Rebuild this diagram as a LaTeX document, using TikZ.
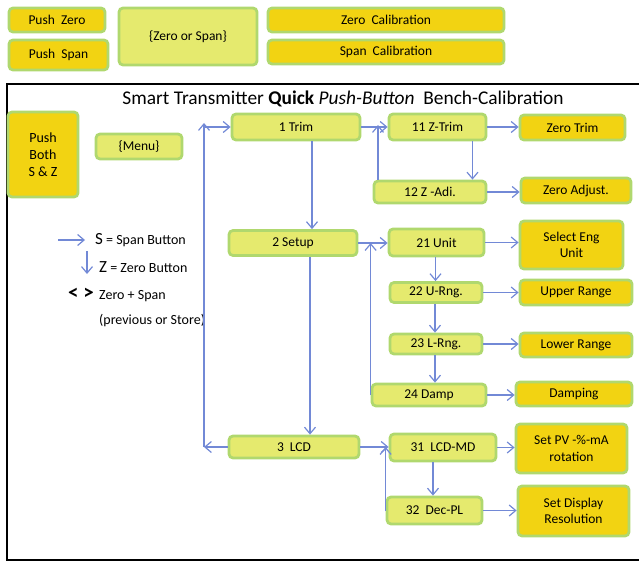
\documentclass[tikz,border=0pt]{standalone}
\usepackage{fontspec}
\setmainfont{Carlito}
\usepackage{xcolor}
\usetikzlibrary{arrows.meta,positioning}
\definecolor{boxgreen}{RGB}{176, 216, 110}
\definecolor{paleyellow}{RGB}{229, 234, 110}
\definecolor{goldyellow}{RGB}{242, 211, 18}
\definecolor{arrowblue}{RGB}{114, 137, 214}

\tikzset{
  menubox/.style={draw=boxgreen, line width=2.8pt, fill=paleyellow, rounded corners=4pt,
    inner sep=0pt, align=center, font=\fontsize{13.5}{16.5}\selectfont},
  resultbox/.style={menubox, fill=goldyellow},
  boxsize/.style 2 args={minimum width=#1, minimum height=#2},
  legendtext/.style={anchor=west, inner sep=0pt, font=\fontsize{14}{16}\selectfont},
  flow/.style={draw=arrowblue, line width=1.2pt, -{Straight Barb[length=6.5pt,width=11pt]}}
}

\begin{document}
\begin{tikzpicture}[x=1pt, y=-1pt]
            \useasboundingbox (0,0) rectangle (639,561);
            % Button key on top
            \node[resultbox, boxsize={96}{24}] (pushzero) at (57,20) {Push\ \ Zero};
            \node[resultbox, boxsize={99}{30}] (pushspan) at (58.5,55) {Push\ \ Span};
            \node[menubox, boxsize={138}{57}] (zerospan) at (188,36.5) {\{Zero or Span\}};
            \node[resultbox, boxsize={236}{24}] (zerocal) at (386,20) {Zero\ \ Calibration};
            \node[resultbox, boxsize={236}{24}] (spancal) at (386,52) {Span\ \ Calibration};
            
            % Frame and title
            \draw[line width=2.5pt] (7,84) rectangle (660,560);
            \node[font=\fontsize{19.4}{22}\selectfont] (title) at (343,99)
                {Smart Transmitter \textbf{Quick} \textit{Push-Button}\ \ Bench-Calibration};
            
            % Left side and legend
            \node[resultbox, boxsize={70}{85}, font=\fontsize{14}{17}\selectfont] (pushboth) at (43,154.5) {Push\\Both\\S \& Z};
            \node[menubox, boxsize={86}{25}] (menu) at (139,146.5) {\{Menu\}};
            \node[legendtext] (spanlbl) at (95,240) {{\fontsize{17}{18}\selectfont S} = Span Button};
            \node[legendtext] (zerolbl) at (99,267) {{\fontsize{17}{18}\selectfont Z} = Zero Button};
            \node[legendtext, anchor=east, font=\fontsize{21}{21}\selectfont\bfseries] (bothsym) at (94,294) {<\ >};
            \node[legendtext] (bothlbl) at (99,296) {Zero + Span};
            \node[legendtext] (storelbl) at (99,321) {(previous or Store)};
            \draw[flow] ([xshift=-37pt]spanlbl.west) -- ([xshift=-10pt]spanlbl.west);
            \draw[flow] ([xshift=-12pt,yshift=16pt]zerolbl.west) -- ([xshift=-12pt,yshift=-7pt]zerolbl.west);
            
            % Main menu
            \node[menubox, boxsize={128}{26}] (trim1) at (296,127) {1 Trim};
            \node[menubox, boxsize={128}{25}] (setup2) at (293,243) {2 Setup};
            \node[menubox, boxsize={130}{22}] (lcd3) at (294,447) {3\ \ LCD};
            
            % Trim branch
            \node[menubox, boxsize={97}{26}] (ztrim11) at (437.5,127) {11 Z-Trim};
            \node[menubox, boxsize={112}{22}] (zadj12) at (430,192) {12 Z -Adi.};
            \node[resultbox, boxsize={105}{25}] (zerotrim) at (572.5,127.5) {Zero Trim};
            \node[resultbox, boxsize={110}{25}] (zeroadj) at (576,190.5) {Zero Adjust.};
            
            % Setup branch
            \node[menubox, boxsize={95}{27}] (unit21) at (436.5,242.5) {21 Unit};
            \node[menubox, boxsize={92}{20}] (urng22) at (436,292.5) {22 U-Rng.};
            \node[menubox, boxsize={92}{20}] (lrng23) at (436,344) {23 L-Rng.};
            \node[menubox, boxsize={114}{22}] (damp24) at (429,395) {24 Damp};
            \node[resultbox, boxsize={103}{48}] (selunit) at (571.5,245) {Select Eng\\Unit};
            \node[resultbox, boxsize={112}{25}] (upper) at (576,292.5) {Upper Range};
            \node[resultbox, boxsize={112}{24}] (lower) at (576,345) {Lower Range};
            \node[resultbox, boxsize={116}{24}] (damping) at (574,394) {Damping};
            
            % LCD branch
            \node[menubox, boxsize={106}{27}] (lcdmd31) at (443,447.5) {31\ \ LCD-MD};
            \node[menubox, boxsize={95}{27}] (decpl32) at (434.5,510.5) {32\ \ Dec-PL};
            \node[resultbox, boxsize={111}{49}] (setpv) at (571.5,448.5) {Set PV -\%-mA\\rotation};
            \node[resultbox, boxsize={111}{50}] (setdisp) at (573.5,511) {Set Display\\Resolution};
            
            % Arrows down the main menu
            \coordinate (menuback) at (204,123);
            \draw[flow] ([xshift=16pt]trim1.south) -- ([xshift=16pt]trim1.south |- setup2.north);
            \draw[flow] ([xshift=17pt]setup2.south) -- ([xshift=17pt]setup2.south |- lcd3.north);
            \draw[flow] (lcd3.west) -- (lcd3.west -| menuback);
            \draw[flow] (lcd3.west -| menuback) -- (menuback);
            \draw[flow] (menuback |- trim1.west) -- (trim1.west);
            
            % Arrows of the trim branch
            \coordinate (trimback) at (378,125);
            \draw[flow] (trim1.east) -- (trim1.east -| ztrim11.west);
            \draw[flow] ([xshift=35pt]ztrim11.south) -- ([xshift=35pt]ztrim11.south |- zadj12.north);
            \draw[flow] (zadj12.north -| trimback) -- (trimback);
            \draw[flow] (ztrim11.east) -- (ztrim11.east -| zerotrim.west);
            \draw[flow] (zadj12.east) -- (zadj12.east -| zeroadj.west);
            
            % Arrows of the setup branch
            \draw[flow] (setup2.east) -- (setup2.east -| unit21.west);
            \draw[flow] ([xshift=-1pt]unit21.south) -- ([xshift=-1pt]unit21.south |- urng22.north);
            \draw[flow] ([xshift=-1pt]urng22.south) -- ([xshift=-1pt]urng22.south |- lrng23.north);
            \draw[flow] ([xshift=-1pt]lrng23.south) -- ([xshift=-1pt]lrng23.south |- damp24.north);
            \draw[flow] (damp24.west) -- (damp24.west |- setup2.east);
            \draw[flow] (unit21.east) -- (unit21.east -| selunit.west);
            \draw[flow] (urng22.east) -- (urng22.east -| upper.west);
            \draw[flow] (lrng23.east) -- (lrng23.east -| lower.west);
            \draw[flow] (damp24.east) -- (damp24.east -| damping.west);
            
            % Arrows of the LCD branch
            \draw[flow] (lcd3.east) -- (lcd3.east -| lcdmd31.west);
            \draw[flow] ([xshift=-10pt]lcdmd31.south) -- ([xshift=-10pt]lcdmd31.south |- decpl32.north);
            \draw[flow] (decpl32.west) -- (decpl32.west |- lcd3.east);
            \draw[flow] (lcdmd31.east) -- (lcdmd31.east -| setpv.west);
            \draw[flow] (decpl32.east) -- (decpl32.east -| setdisp.west);
        \end{tikzpicture}
\end{document}
